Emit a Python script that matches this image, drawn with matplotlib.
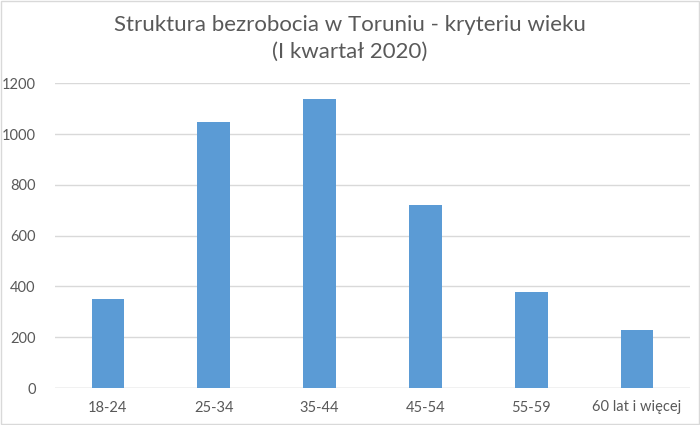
import matplotlib
matplotlib.use('Agg')
import matplotlib.pyplot as plt
from matplotlib.patches import Rectangle

categories = ['18-24', '25-34', '35-44', '45-54', '55-59', '60 lat i więcej']
values = [351, 1047, 1139, 721, 378, 230]
yticks = [0, 200, 400, 600, 800, 1000, 1200]

plt.rcParams['font.family'] = ['Lato', 'DejaVu Sans']

fig = plt.figure(figsize=(7, 4.25), dpi=100)
ax = fig.add_axes([55 / 700, 1 - 388 / 425, 635 / 700, 304.7 / 425])

x = range(len(categories))
ax.bar(x, values, width=0.31, color='#5B9BD5', zorder=3)

ax.set_xlim(-0.5, len(categories) - 0.5)
ax.set_ylim(0, 1200)
ax.set_yticks(yticks)
ax.set_xticks(list(x))
ax.set_xticklabels(categories)
ax.tick_params(axis='both', length=0, colors='#595959', labelsize=10.5)
ax.tick_params(axis='y', pad=14)
ax.tick_params(axis='x', pad=9)
ax.grid(axis='y', color='#D9D9D9', linewidth=1, zorder=0)
for s in ax.spines.values():
    s.set_visible(False)
ax.axhline(0, color='#D9D9D9', linewidth=1, zorder=2)

fig.text(0.5, 1 - 25 / 425, 'Struktura bezrobocia w Toruniu - kryteriu wieku',
         ha='center', va='center', fontsize=16, color='#595959')
fig.text(0.5, 1 - 52 / 425, '(I kwartał 2020)',
         ha='center', va='center', fontsize=16, color='#595959')

# chart border
fig.patches.append(Rectangle((0.002, 0.002), 0.996, 0.996, transform=fig.transFigure,
                             fill=False, edgecolor='#D9D9D9', linewidth=1))

fig.savefig('out.png', dpi=100)
